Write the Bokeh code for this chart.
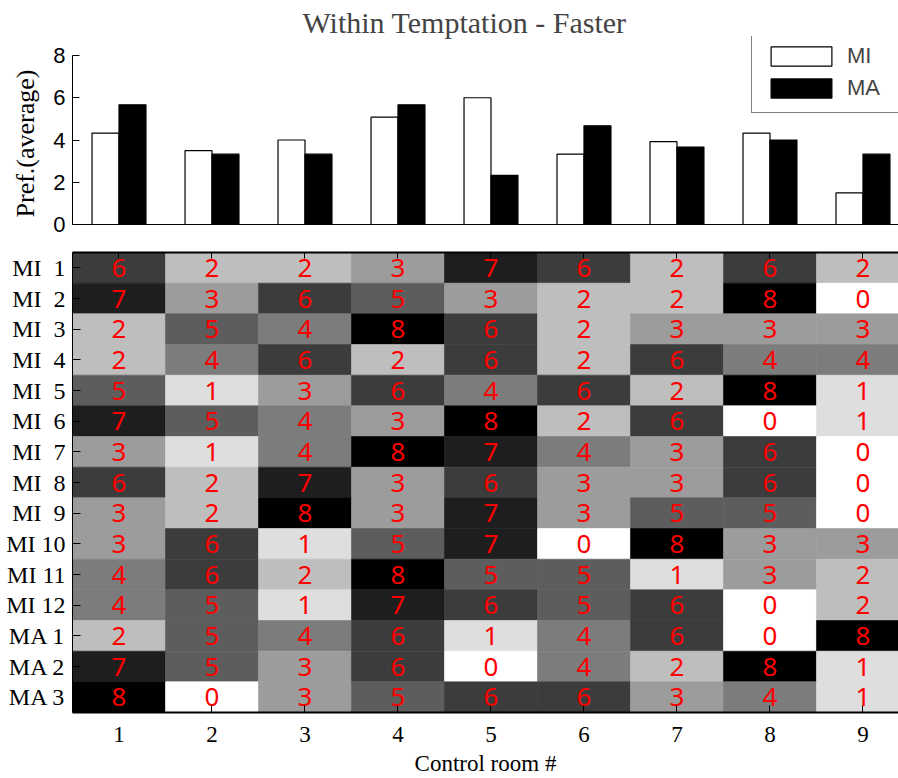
from bokeh.plotting import figure
from bokeh.models import (ColumnDataSource, FactorRange, Range1d, FixedTicker,
                          LinearAxis, Legend, LegendItem, LinearColorMapper)
from bokeh.transform import dodge
from bokeh.layouts import column
from bokeh.core.properties import value
from bokeh.embed import file_html
from bokeh.resources import INLINE

# ---------------- data ----------------
rooms = [1, 2, 3, 4, 5, 6, 7, 8, 9]
mi_avg = [4.33, 3.50, 4.00, 5.08, 6.00, 3.33, 3.92, 4.33, 1.50]
ma_avg = [5.67, 3.33, 3.33, 5.67, 2.33, 4.67, 3.67, 4.00, 3.33]
pref_ticks = [0, 2, 4, 6, 8]

row_labels = ["MI\u00a0\u00a01", "MI\u00a0\u00a02", "MI\u00a0\u00a03", "MI\u00a0\u00a04",
              "MI\u00a0\u00a05", "MI\u00a0\u00a06", "MI\u00a0\u00a07", "MI\u00a0\u00a08",
              "MI\u00a0\u00a09", "MI 10", "MI 11", "MI 12", "MA 1", "MA 2", "MA 3"]

scores = [
    [6, 2, 2, 3, 7, 6, 2, 6, 2],
    [7, 3, 6, 5, 3, 2, 2, 8, 0],
    [2, 5, 4, 8, 6, 2, 3, 3, 3],
    [2, 4, 6, 2, 6, 2, 6, 4, 4],
    [5, 1, 3, 6, 4, 6, 2, 8, 1],
    [7, 5, 4, 3, 8, 2, 6, 0, 1],
    [3, 1, 4, 8, 7, 4, 3, 6, 0],
    [6, 2, 7, 3, 6, 3, 3, 6, 0],
    [3, 2, 8, 3, 7, 3, 5, 5, 0],
    [3, 6, 1, 5, 7, 0, 8, 3, 3],
    [4, 6, 2, 8, 5, 5, 1, 3, 2],
    [4, 5, 1, 7, 6, 5, 6, 0, 2],
    [2, 5, 4, 6, 1, 4, 6, 0, 8],
    [7, 5, 3, 6, 0, 4, 2, 8, 1],
    [8, 0, 3, 5, 6, 6, 3, 4, 1],
]

gray_levels = ["#ffffff", "#dedede", "#bebebe", "#9c9c9c", "#7c7c7c",
               "#5d5d5d", "#3c3c3c", "#1e1e1e", "#000000"]

SERIF = "Liberation Serif"
SANS = "Liberation Sans"
XR = (0.5, 9.382)

# ---------------- top: bar chart ----------------
top = figure(width=898, height=238, x_range=Range1d(*XR), y_range=Range1d(0, 8.9),
             output_backend="svg", toolbar_location=None,
             min_border_left=72, min_border_right=0, min_border_top=36, min_border_bottom=14,
             title="Within Temptation - Faster")
top.title.text_font = SERIF
top.title.text_font_size = "30px"
top.title.text_font_style = "normal"
top.title.align = "left"
top.title.offset = 230
top.title.standoff = -4
top.outline_line_color = None
top.grid.visible = False

src = ColumnDataSource(dict(room=rooms, mi=mi_avg, ma=ma_avg))
r_mi = top.vbar(x=dodge("room", -0.145), top="mi", width=0.29, source=src,
                fill_color="white", line_color="black", line_width=1.2)
r_ma = top.vbar(x=dodge("room", 0.145), top="ma", width=0.29, source=src,
                fill_color="black", line_color="black", line_width=1.2)

top.xaxis.ticker = FixedTicker(ticks=[])
top.xaxis.major_tick_in = 0
top.xaxis.major_tick_out = 0
top.xaxis.minor_tick_line_color = None
top.xaxis.axis_line_width = 1.2
top.xaxis.major_label_standoff = 0

top.yaxis.ticker = FixedTicker(ticks=pref_ticks)
top.yaxis.bounds = (0, 8)
top.yaxis.major_tick_in = 7
top.yaxis.major_tick_out = 0
top.yaxis.minor_tick_line_color = None
top.yaxis.major_label_text_font = SANS
top.yaxis.major_label_text_font_size = "22px"
top.yaxis.major_label_text_color = "black"
top.yaxis.major_label_standoff = 7
# trailing no-break spaces centre the visible words on the 0..8 part of the axis
top.yaxis.axis_label = "Pref.(average)\u00a0\u00a0\u00a0\u00a0"
top.yaxis.axis_label_text_font = SERIF
top.yaxis.axis_label_text_font_size = "26px"
top.yaxis.axis_label_text_font_style = "normal"
top.yaxis.axis_label_text_color = "black"
top.yaxis.axis_label_standoff = 10

legend = Legend(items=[LegendItem(label="MI", renderers=[r_mi]),
                       LegendItem(label="MA", renderers=[r_ma])],
                location=(679, 111), orientation="vertical",
                glyph_width=76, glyph_height=24, label_height=24, label_width=60,
                label_standoff=8, spacing=6, padding=11, margin=0,
                border_line_color="black", border_line_width=1,
                label_text_font=SANS, label_text_font_size="22px",
                background_fill_color="white", background_fill_alpha=1.0)
top.add_layout(legend)

# ---------------- bottom: heatmap ----------------
h_room, h_row, h_val, h_txt = [], [], [], []
for lab, row in zip(row_labels, scores):
    for rm, v in zip(rooms, row):
        h_room.append(rm)
        h_row.append(lab)
        h_val.append(v)
        h_txt.append(str(v))
hsrc = ColumnDataSource(dict(room=h_room, row=h_row, score=h_val, txt=h_txt))

hm = figure(width=898, height=540, x_range=Range1d(*XR),
            y_range=FactorRange(factors=list(reversed(row_labels))),
            output_backend="svg", toolbar_location=None,
            min_border_left=72, min_border_right=0, min_border_top=14, min_border_bottom=64)
hm.outline_line_color = None
hm.grid.visible = False

mapper = LinearColorMapper(palette=gray_levels, low=-0.5, high=8.5)
hm.rect(x="room", y="row", width=1, height=1, source=hsrc,
        fill_color={"field": "score", "transform": mapper},
        line_color={"field": "score", "transform": mapper}, line_width=0.6)
hm.text(x="room", y="row", text="txt", source=hsrc, text_color="red",
        text_font=value("Noto Sans"), text_font_size="26px",
        text_align="center", text_baseline="middle")

hm.xaxis.ticker = FixedTicker(ticks=rooms)
hm.xaxis.major_tick_in = 7
hm.xaxis.major_tick_out = 0
hm.xaxis.minor_tick_line_color = None
hm.xaxis.axis_line_width = 2
hm.xaxis.major_label_text_font = SERIF
hm.xaxis.major_label_text_font_size = "23px"
hm.xaxis.major_label_text_color = "black"
hm.xaxis.major_label_standoff = 14
hm.xaxis.axis_label = "Control room #"
hm.xaxis.axis_label_text_font = SERIF
hm.xaxis.axis_label_text_font_size = "23px"
hm.xaxis.axis_label_text_font_style = "normal"
hm.xaxis.axis_label_text_color = "black"
hm.xaxis.axis_label_standoff = 6

top_ax = LinearAxis(ticker=FixedTicker(ticks=rooms), major_tick_in=6, major_tick_out=0,
                    minor_tick_line_color=None, axis_line_width=2,
                    major_label_overrides={r: "" for r in rooms}, major_label_standoff=0)
hm.add_layout(top_ax, "above")

hm.yaxis.major_tick_in = 8
hm.yaxis.major_tick_out = 0
hm.yaxis.axis_line_width = 1
hm.yaxis.major_label_text_font = SERIF
hm.yaxis.major_label_text_font_size = "24px"
hm.yaxis.major_label_text_color = "black"
hm.yaxis.major_label_standoff = 7

layout = column(top, hm)
open("out.html", "w").write(file_html(layout, INLINE))
